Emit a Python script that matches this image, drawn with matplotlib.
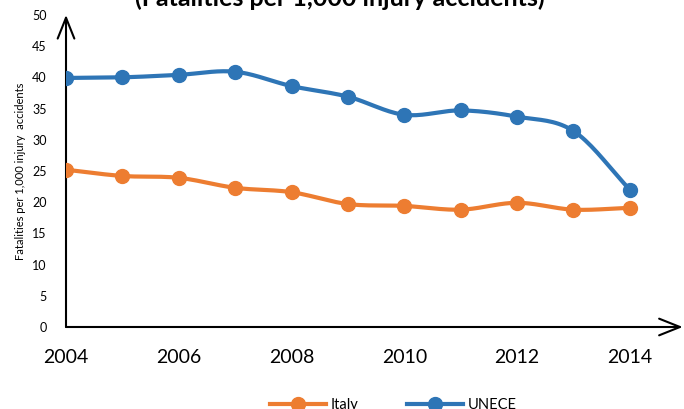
import matplotlib
matplotlib.use("Agg")
import matplotlib.pyplot as plt
import numpy as np

# ── data ────────────────────────────────────────────────────────────────────
years  = [2004, 2005, 2006, 2007, 2008, 2009, 2010, 2011, 2012, 2013, 2014]
italy  = [25.2, 24.2, 23.9, 22.3, 21.6, 19.7, 19.4, 18.8, 19.9, 18.8, 19.1]
unece  = [39.9, 40.0, 40.4, 40.9, 38.6, 36.9, 34.0, 34.7, 33.7, 31.4, 22.0]
xticks = [2004, 2006, 2008, 2010, 2012, 2014]
yticks = list(range(0, 51, 5))

ORANGE = "#ED7D31"
BLUE   = "#2E75B6"

plt.rcParams["font.family"] = ["Lato", "DejaVu Sans"]


def smooth(x, y, n=20):
    """Catmull-Rom curve through the points, like Excel's smoothed line."""
    x = np.asarray(x, float)
    y = np.asarray(y, float)
    px = np.concatenate([[2 * x[0] - x[1]], x, [2 * x[-1] - x[-2]]])
    py = np.concatenate([[2 * y[0] - y[1]], y, [2 * y[-1] - y[-2]]])
    t = np.linspace(0, 1, n)
    xs, ys = [], []
    for i in range(1, len(px) - 2):
        for p, out in ((px, xs), (py, ys)):
            p0, p1, p2, p3 = p[i - 1], p[i], p[i + 1], p[i + 2]
            out.extend(0.5 * (2 * p1 + (-p0 + p2) * t
                              + (2 * p0 - 5 * p1 + 4 * p2 - p3) * t ** 2
                              + (-p0 + 3 * p1 - 3 * p2 + p3) * t ** 3))
    return xs, ys


fig = plt.figure(figsize=(6.84, 4.09), dpi=100)
ax = fig.add_axes([0.0965, 0.2005, 0.9035, 0.763])

for vals, color, label in ((italy, ORANGE, "Italy"), (unece, BLUE, "UNECE")):
    sx, sy = smooth(years, vals)
    ax.plot(sx, sy, color=color, lw=3, solid_capstyle="round", zorder=3)
    ax.plot(years, vals, "o", color=color, ms=10, zorder=4)
    ax.plot([], [], "-o", color=color, lw=3, ms=10, label=label)

ax.set_xlim(2004, 2014.96)
ax.set_ylim(0, 50)
ax.set_xticks(xticks)
ax.set_yticks(yticks)
ax.tick_params(axis="x", length=0, labelsize=14, pad=16)
ax.tick_params(axis="y", length=0, labelsize=9, pad=14)
for s in ax.spines.values():
    s.set_visible(False)
ax.set_facecolor("none")

# axis lines with open arrow heads
arrow = dict(arrowstyle="->,head_length=1.5,head_width=0.6",
             color="black", lw=1.5, shrinkA=0, shrinkB=0)
ax.annotate("", xy=(0, 1.0), xytext=(0, 0), xycoords="axes fraction",
            arrowprops=arrow, annotation_clip=False)
ax.annotate("", xy=(0.998, 0), xytext=(0, 0), xycoords="axes fraction",
            arrowprops=arrow, annotation_clip=False)

ax.set_ylabel("Fatalities per 1,000 injury  accidents", fontsize=8, labelpad=4)

fig.text(0.497, 1 - 6 / 409, "(Fatalities per 1,000 injury accidents)",
         ha="center", va="baseline", fontsize=18, fontweight="bold")

fig.legend(loc="center", bbox_to_anchor=(0.575, 0.01), ncol=2, frameon=False,
           fontsize=10.5, handlelength=3.8, columnspacing=3.4, handletextpad=0.3)

fig.savefig("out.png", dpi=100)
